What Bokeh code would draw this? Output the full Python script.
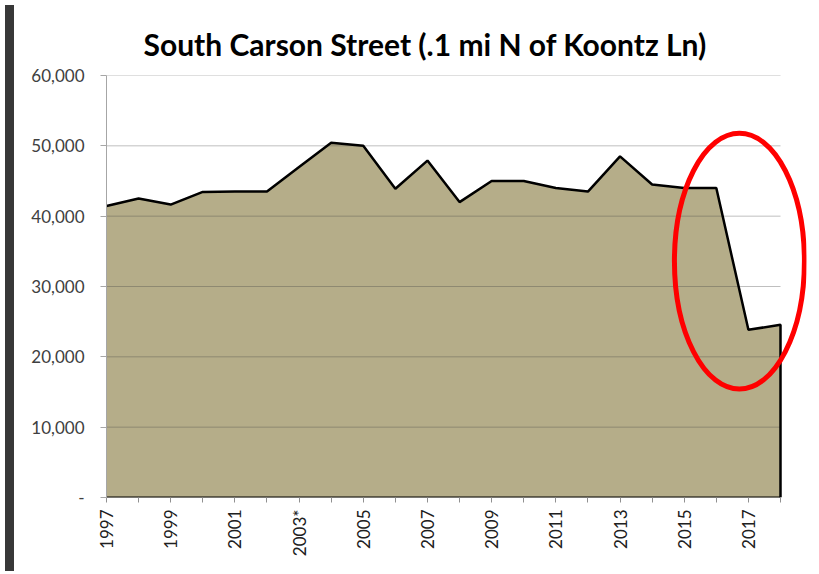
import numpy as np
from bokeh.plotting import figure
from bokeh.models import FixedTicker, Div, Range1d
from bokeh.layouts import row
from bokeh.embed import file_html
from bokeh.resources import INLINE

years = list(range(1997, 2019))
volumes = [41450, 42500, 41650, 43450, 43500, 43500, 47000, 50450, 50000, 43900,
           47900, 42000, 45000, 45000, 44000, 43500, 48500, 44500, 44000, 44000,
           23850, 24550]
title_text = "South Carson Street (.1 mi N of Koontz Ln)"
y_ticks = [0, 10000, 20000, 30000, 40000, 50000, 60000]
y_labels = {0: "-", 10000: "10,000", 20000: "20,000", 30000: "30,000",
            40000: "40,000", 50000: "50,000", 60000: "60,000"}
x_labels = {y: (str(y) if (y - 1997) % 2 == 0 else "") for y in years}
x_labels[2003] = "2003*"

# highlight ellipse (center year, center value, width in years, height in value)
ell_cx, ell_cy, ell_w, ell_h = 2016.72, 33600, 4.05, 36400

p = figure(width=799, height=566, output_backend="svg", toolbar_location=None,
           x_range=Range1d(1997, 2018.81), y_range=Range1d(0, 60000),
           min_border_left=87, min_border_right=12, min_border_top=75,
           min_border_bottom=69, background_fill_color="white",
           border_fill_color="white", outline_line_color=None)

p.title.text = title_text
p.title.text_font = "Lato"
p.title.text_font_style = "bold"
p.title.text_font_size = "30px"
p.title.align = "left"
p.title.offset = 37
p.title.standoff = 27
p.title.text_color = "black"

p.varea(x=years, y1=0, y2=volumes, fill_color="#b5ad89")

# horizontal gridlines, limited to the data span
grid_y = y_ticks[1:]
p.segment(x0=[years[0]] * len(grid_y), y0=grid_y, x1=[years[-1]] * len(grid_y), y1=grid_y,
          line_color="#444444", line_alpha=0.34, line_width=1)

p.line(x=years + [years[-1]], y=volumes + [0], line_color="black", line_width=2.5)
# baseline (x axis line) limited to data span
p.segment(x0=[years[0]], y0=[0], x1=[years[-1]], y1=[0], line_color="black", line_width=2)

p.ellipse(x=[ell_cx], y=[ell_cy], width=[ell_w], height=[ell_h],
          fill_color=None, line_color="#ff0000", line_width=5)

p.xgrid.visible = False
p.ygrid.visible = False

p.yaxis.ticker = FixedTicker(ticks=y_ticks)
p.yaxis.major_label_overrides = y_labels
p.yaxis.minor_tick_line_color = None
p.yaxis.axis_line_color = "#a6a6a6"
p.yaxis.major_tick_line_color = "#a6a6a6"
p.yaxis.major_tick_in = 0
p.yaxis.major_tick_out = 6
p.yaxis.major_label_standoff = 16
p.yaxis.major_label_text_font = "Lato"
p.yaxis.major_label_text_font_size = "17px"
p.yaxis.major_label_text_color = "#404040"

p.xaxis.ticker = FixedTicker(ticks=years)
p.xaxis.major_label_overrides = x_labels
p.xaxis.minor_tick_line_color = None
p.xaxis.axis_line_color = None
p.xaxis.major_tick_line_color = "#909090"
p.xaxis.major_tick_in = 0
p.xaxis.major_tick_out = 5
p.xaxis.major_label_orientation = np.pi / 2
p.xaxis.major_label_standoff = 7
p.xaxis.major_label_text_font = "Lato"
p.xaxis.major_label_text_font_size = "17px"
p.xaxis.major_label_text_color = "#202020"

left = Div(width=9, height=566, styles={"background-color": "#383838"})
right = Div(width=3, height=566, styles={"background-color": "#383838"})
layout = row(left, p, right, spacing=0)

open("out.html", "w").write(file_html(layout, INLINE))
